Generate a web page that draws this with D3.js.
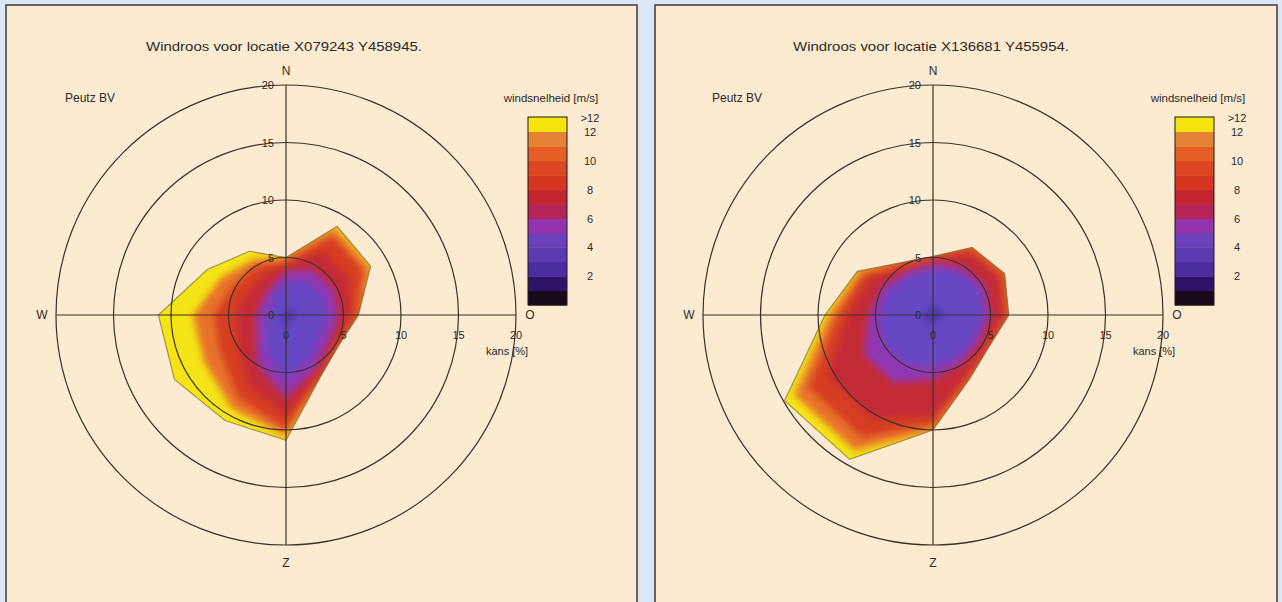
<!DOCTYPE html>
<html><head><meta charset="utf-8">
<script src="https://cdn.jsdelivr.net/npm/d3@7"></script>
<style>
body{margin:0;background:#dce7f6;overflow:hidden;}
svg{display:block;font-family:"Liberation Sans",Arial,Helvetica,sans-serif;}
</style></head><body>
<svg id="c" width="1282" height="602"></svg>
<script>
// ---------- data ----------
const directions = [0,30,60,90,120,150,180,210,240,270,300,330];
const ringTicks = [5,10,15,20];
const axisTickLabels = ["0","5","10","15","20"];
const compassLabels = [{t:"N",a:0},{t:"O",a:90},{t:"Z",a:180},{t:"W",a:270}];
const legendTickValues = [2,4,6,8,10,12];
const legendTopLabel = ">12";
const legendSteps = [0,1,2,3,4,5,6,7,8,9,10,11];
const legendStepColors = ["#170a1a","#2d1468","#4a2ea0","#5a3cb0","#6c40b8","#9434ac","#b42458","#c42630","#d43622","#dc4622","#e45e26","#e68236"];
const legendTopColor = "#f6e40e";
const speedClasses = ["0-2","2-4","4-6","6-8","8-10","10-12",">12"];
const classColors = ["#5038ac","#6648c4","#9038b4","#c42a36","#d63e22","#e8722a","#f4e416"];

// left location: cumulative frequency (%) per direction up to wind speed
const titleLeft = "Windroos voor locatie X079243 Y458945.";
const leftCum2  = [0.5,0.7,0.8,0.8,0.7,0.8,1.0,0.7,0.6,0.5,0.4,0.4];
const leftCum4  = [2.8,3.4,3.5,3.6,3.4,4.2,5.6,3.5,2.0,1.7,1.6,2.0];
const leftCum6  = [3.8,4.6,4.7,4.6,4.4,5.3,7.2,5.0,3.0,2.6,2.4,2.8];
const leftCum8  = [4.3,6.4,6.3,5.6,4.9,5.8,8.8,6.8,4.8,4.4,3.9,4.0];
const leftCum10 = [4.7,8.0,7.8,6.1,5.2,6.0,10.0,8.3,6.6,6.3,5.2,5.0];
const leftCum12 = [4.9,8.6,8.3,6.3,5.3,6.1,10.5,9.4,8.2,8.1,6.5,5.6];
const leftTotal = [5.0,8.9,8.5,6.3,5.3,6.1,10.9,10.6,11.2,11.1,7.9,6.4];

// right location
const titleRight = "Windroos voor locatie X136681 Y455954.";
const rightCum2  = [0.8,0.9,0.9,0.9,0.8,0.8,0.8,1.0,1.0,0.9,0.8,0.7];
const rightCum4  = [4.0,4.3,4.5,4.4,4.1,4.2,4.4,4.8,4.9,4.6,4.3,3.9];
const rightCum6  = [4.5,4.9,5.2,5.0,4.7,4.9,5.6,6.8,6.9,5.6,5.1,4.4];
const rightCum8  = [4.8,6.2,6.6,6.1,5.3,6.0,8.8,10.5,10.6,7.4,6.4,4.8];
const rightCum10 = [5.0,6.6,7.0,6.4,5.5,6.2,9.5,12.3,12.5,8.3,7.0,5.1];
const rightCum12 = [5.1,6.8,7.2,6.6,5.6,6.4,9.9,13.6,13.9,9.0,7.4,5.3];
const rightTotal = [5.1,6.8,7.2,6.6,5.6,6.4,10.0,14.5,14.9,9.4,7.6,5.3];

// ---------- drawing ----------
const svg = d3.select("#c");
const defs = svg.append("defs");
const f = defs.append("filter").attr("id","soft")
  .attr("filterUnits","userSpaceOnUse").attr("x",-300).attr("y",-300).attr("width",600).attr("height",600)
  .attr("color-interpolation-filters","sRGB");
f.append("feGaussianBlur").attr("stdDeviation",3.5);
f.append("feComponentTransfer").append("feFuncA").attr("type","linear").attr("slope",30).attr("intercept",0);

const rScale = d3.scaleLinear().domain([0,20]).range([0,230]);
const aScale = d3.scaleLinear().domain([0,360]).range([0,2*Math.PI]);
const lineColor = "#3a3128";

function panel(px, pw, cx, title, layers, id){
  const p = svg.append("g");
  p.append("rect").attr("x",px).attr("y",5).attr("width",pw).attr("height",640)
    .attr("fill","#fdebd1").attr("stroke","#3a3a3a").attr("stroke-width",1.5);
  p.append("text").attr("x",cx-2).attr("y",51).attr("text-anchor","middle")
    .attr("font-size",12).attr("fill","#2a2a2a").attr("textLength",276).attr("lengthAdjust","spacingAndGlyphs").text(title);
  p.append("text").attr("x",cx-221).attr("y",102).attr("font-size",12).attr("fill","#2a2a2a").text("Peutz BV");

  const g = p.append("g").attr("transform",`translate(${cx},315)`);
  const radial = d3.lineRadial().curve(d3.curveLinearClosed)
    .angle((d,i)=>aScale(directions[i])).radius(d=>rScale(d));
  const total = layers[layers.length-1];
  defs.append("clipPath").attr("id","clip"+id).append("path").attr("d",radial(total));

  const lg = g.append("g").attr("clip-path",`url(#clip${id})`).append("g").attr("filter","url(#soft)");
  for(let k=layers.length-1;k>=0;k--){
    lg.append("path").attr("d",radial(layers[k])).attr("fill",classColors[k]);
  }
  g.append("path").attr("d",radial(total)).attr("fill","none").attr("stroke","#6b6226").attr("stroke-width",1.2).attr("stroke-opacity",0.6);

  g.selectAll("circle.ring").data(ringTicks).join("circle")
    .attr("r",d=>rScale(d)).attr("fill","none").attr("stroke",lineColor).attr("stroke-width",1.2);
  g.append("line").attr("x1",-rScale(20)).attr("x2",rScale(20)).attr("stroke",lineColor).attr("stroke-width",1.2);
  g.append("line").attr("y1",-rScale(20)).attr("y2",rScale(20)).attr("stroke",lineColor).attr("stroke-width",1.2);

  g.selectAll("text.nt").data(axisTickLabels).join("text")
    .attr("x",-12).attr("y",(d)=>-rScale(+d)+4).attr("text-anchor","end")
    .attr("font-size",11).attr("fill","#2a2a2a").text(d=>d);
  g.selectAll("text.et").data(axisTickLabels).join("text")
    .attr("x",d=>rScale(+d)).attr("y",24).attr("text-anchor","middle")
    .attr("font-size",11).attr("fill","#2a2a2a").text(d=>d);
  g.append("text").attr("x",rScale(20)-9).attr("y",40).attr("text-anchor","middle")
    .attr("font-size",11).attr("fill","#2a2a2a").text("kans [%]");
  g.selectAll("text.cp").data(compassLabels).join("text")
    .attr("x",d=>Math.sin(aScale(d.a))*(rScale(20)+ (d.a%180===0?0:14)))
    .attr("y",d=>-Math.cos(aScale(d.a))*(rScale(20)+ (d.a%180===0?14:0)) + (d.a===180?8:4))
    .attr("text-anchor","middle").attr("font-size",12).attr("fill","#2a2a2a").text(d=>d.t);

  const lx = cx+242, lw = 39;
  const ly = d3.scaleLinear().domain([0,12]).range([305,132]);
  p.append("text").attr("x",cx+265).attr("y",102).attr("text-anchor","middle").attr("font-size",11.5).attr("fill","#2a2a2a").text("windsnelheid [m/s]");
  p.selectAll("rect.lg").data(legendSteps).join("rect")
    .attr("x",lx).attr("width",lw).attr("y",d=>ly(d+1)).attr("height",d=>ly(d)-ly(d+1)+0.5)
    .attr("fill",(d,i)=>legendStepColors[i]);
  p.append("rect").attr("x",lx).attr("width",lw).attr("y",117).attr("height",ly(12)-117).attr("fill",legendTopColor);
  p.append("rect").attr("x",lx).attr("width",lw).attr("y",117).attr("height",305-117).attr("fill","none").attr("stroke","#1a1a1a").attr("stroke-width",1);
  p.selectAll("text.lt").data(legendTickValues).join("text")
    .attr("x",lx+62).attr("y",d=>ly(d)+4).attr("text-anchor","middle").attr("font-size",11).attr("fill","#2a2a2a").text(d=>d);
  p.append("text").attr("x",lx+62).attr("y",122).attr("text-anchor","middle").attr("font-size",11).attr("fill","#2a2a2a").text(legendTopLabel);
}

panel(6, 631, 286, titleLeft, [leftCum2,leftCum4,leftCum6,leftCum8,leftCum10,leftCum12,leftTotal], "L");
panel(655, 622, 933, titleRight, [rightCum2,rightCum4,rightCum6,rightCum8,rightCum10,rightCum12,rightTotal], "R");
</script>
</body></html>
